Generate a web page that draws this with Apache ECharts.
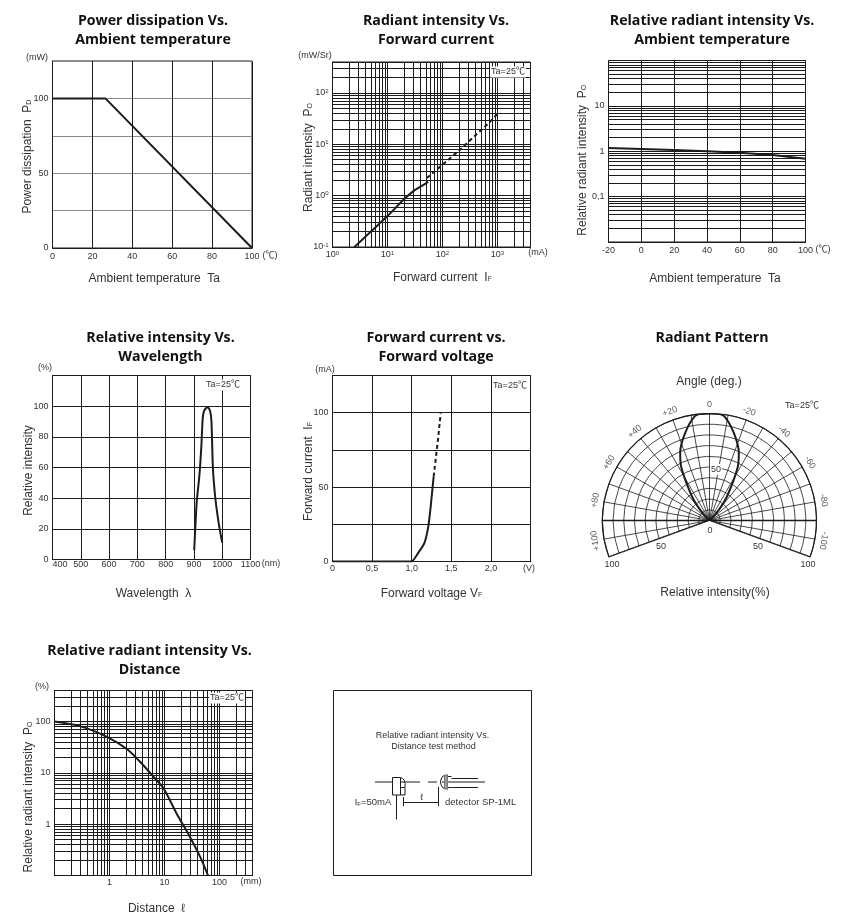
<!DOCTYPE html>
<html>
<head>
<meta charset="utf-8">
<title>IR LED characteristics</title>
<style>
  html, body { margin: 0; padding: 0; background: #fff; }
  #main { width: 844px; height: 922px; }
</style>
<script src="https://cdn.jsdelivr.net/npm/echarts@6/dist/echarts.min.js"></script>
</head>
<body>
<div id="main"></div>
<script>
// power dissipation vs ambient temperature
const powerTemp = [0, 26.5, 100];
const powerVal = [100, 100, 0];
const powerYLabels = [0, 50, 100];

// radiant intensity vs forward current
const radiantCurrent = [2.5, 5, 10, 20, 30, 40, 55];
const radiantVal = [0.1, 0.2, 0.4, 0.85, 1.24, 1.5, 1.85];
const radiantDashCurrent = [52, 100, 200, 400, 700, 1000];
const radiantDashVal = [2.2, 4, 7.5, 15, 26, 39];

// relative radiant intensity vs ambient temperature
const relTemp = [-20, 0, 20, 40, 60, 80, 100];
const relVal = [1.18, 1.12, 1.06, 1.0, 0.93, 0.83, 0.68];

// relative intensity vs wavelength
const waveNm = [901, 910, 919, 926, 931, 936, 948, 957, 962, 967, 974, 981, 990, 1000];
const waveVal = [6, 38, 54, 73, 92, 97, 99.5, 97, 90, 60, 43, 32, 21, 11];

// forward current vs forward voltage
const vfVolt = [0, 1.0, 1.08, 1.16, 1.21, 1.24, 1.277];
const vfCurrent = [0, 0, 5.6, 12.4, 23.6, 37, 57];
const vfDashVolt = [1.277, 1.328, 1.366];
const vfDashCurrent = [57, 80, 99.5];

// radiant pattern, one lobe (mirrored for the negative angles)
const lobeAngle = [0, 4, 8, 15.5, 23.4, 28, 36, 42, 50];
const lobeVal = [100, 100, 98.5, 85, 69, 56, 28, 12, 0];
const polarAngleLabels = [100, 80, 60, 40, 20, 0, -20, -40, -60, -80, -100];
const polarEdgeAngles = [110, 90, -90, -110];

// relative radiant intensity vs distance
const distMm = [0.1, 0.29, 0.9, 2.07, 3.6, 6.3, 9.6, 16.7, 29, 44.7, 62];
const distVal = [100, 81, 50, 29, 16.4, 8.4, 5, 1.6, 0.57, 0.23, 0.1];

const sansFont = '"Liberation Sans", "Noto Sans CJK JP", sans-serif';
const ink = '#1c1c1c';
const textInk = '#333';

function pairs(xs, ys) {
  return xs.map((x, i) => [x, ys[i]]);
}

// 1,2..9 per decade, used for the log paper lines
function logLines(min, max) {
  let out = [];
  for (let d = Math.floor(Math.log10(min)); d <= Math.ceil(Math.log10(max)); d++) {
    for (let m = 1; m < 10; m++) {
      let v = Number((m * Math.pow(10, d)).toPrecision(3));
      if (v >= min && v <= max) out.push(v);
    }
  }
  return out;
}

function nameStyle(shift) {
  return {
    fontFamily: sansFont,
    fontSize: 12,
    color: textInk,
    padding: shift > 0 ? [0, 0, 0, shift * 2] : (shift < 0 ? [0, -shift * 2, 0, 0] : 0),
    rich: {
      m: { fontFamily: sansFont, fontSize: 12, color: textInk },
      s: { fontFamily: sansFont, fontSize: 7, color: textInk, padding: [3, 0, 0, 0] }
    }
  };
}

const superRich = {
  b: { fontFamily: sansFont, fontSize: 9, color: textInk },
  e: { fontFamily: sansFont, fontSize: 6, color: textInk, padding: [0, 0, 4, 0] }
};

function powerLabel(v) {
  return '{b|10}{e|' + Math.round(Math.log10(v)) + '}';
}

function valueAxis(opt) {
  let lineColor = opt.lineColor || ink;
  let axis = {
    type: opt.log ? 'log' : 'value',
    gridIndex: opt.grid,
    min: opt.min,
    max: opt.max,
    name: opt.name,
    nameLocation: 'middle',
    nameGap: opt.gap,
    nameMoveOverlap: false,
    nameTextStyle: nameStyle(opt.shift || 0),
    axisLine: { show: true, lineStyle: { color: ink, width: 1 } },
    axisTick: { show: false },
    axisLabel: {
      fontFamily: sansFont,
      fontSize: 9,
      color: textInk,
      margin: opt.margin === undefined ? 4 : opt.margin,
      showMinLabel: true,
      showMaxLabel: true,
      hideOverlap: false,
      formatter: v => String(v)
    },
    splitLine: { show: true, lineStyle: { color: lineColor, width: 1 } },
    minorTick: { show: false }
  };
  if (opt.log) {
    axis.logBase = 10;
    axis.axisTick.customValues = opt.lines;
    axis.axisLabel.customValues = opt.labels;
  } else {
    axis.interval = opt.interval;
    if (opt.labels) axis.axisLabel.customValues = opt.labels;
  }
  if (opt.rich) {
    axis.axisLabel.rich = superRich;
    axis.axisLabel.formatter = powerLabel;
  }
  if (opt.formatter) axis.axisLabel.formatter = opt.formatter;
  if (opt.minAlign) axis.axisLabel.alignMinLabel = opt.minAlign;
  return axis;
}

function curve(x, y, data, dashed, smooth) {
  return {
    type: 'line',
    xAxisIndex: x,
    yAxisIndex: y,
    data: data,
    symbol: 'none',
    smooth: smooth || false,
    z: 5,
    lineStyle: { color: ink, width: 2, type: dashed ? [4, 3] : 'solid' }
  };
}

function title(text, x, y) {
  return {
    text: text,
    left: x,
    top: y,
    padding: 0,
    textAlign: 'center',
    textStyle: {
      fontFamily: '"Open Sans", sans-serif',
      fontWeight: 'bold',
      fontSize: 14.2,
      lineHeight: 19.5,
      color: '#111'
    }
  };
}

function note(text, x, y, size, bg, align) {
  return {
    type: 'text',
    x: x,
    y: y,
    z: 100,
    style: {
      text: text,
      fontFamily: sansFont,
      fontSize: size || 9,
      fill: textInk,
      align: align || 'center',
      verticalAlign: 'middle',
      backgroundColor: bg || 'transparent',
      padding: bg ? [1, 1, 1, 1] : 0
    }
  };
}

function seg(x1, y1, x2, y2, w, c) {
  return {
    type: 'line', z: 100,
    shape: { x1: x1, y1: y1, x2: x2, y2: y2 },
    style: { stroke: c || ink, lineWidth: w || 1 }
  };
}

function bend(x1, y1, cx, cy, x2, y2) {
  return {
    type: 'bezierCurve', z: 100,
    shape: { x1: x1, y1: y1, cpx1: cx, cpy1: cy, x2: x2, y2: y2 },
    style: { stroke: ink, lineWidth: 1, fill: null }
  };
}

const grids = [
  { left: 52.5, top: 61, width: 199.5, height: 187 },
  { left: 332.5, top: 62, width: 198, height: 185 },
  { left: 608.5, top: 60.5, width: 197, height: 181.5 },
  { left: 52.5, top: 375.5, width: 198, height: 184 },
  { left: 332.5, top: 375.5, width: 198, height: 186 },
  { left: 54.5, top: 690.5, width: 198, height: 185 }
].map(g => Object.assign(g, { show: true, borderColor: ink, borderWidth: 1, backgroundColor: 'transparent' }));

const xAxes = [
  valueAxis({ grid: 0, min: 0, max: 100, interval: 20, name: 'Ambient temperature  Ta', gap: 25, shift: 2 }),
  valueAxis({ grid: 1, log: true, min: 1, max: 4000, lines: logLines(1, 4000), labels: [1, 10, 100, 1000], rich: true, name: '{m|Forward current  I}{s|F}', gap: 25, shift: 11, margin: 3 }),
  valueAxis({ grid: 2, min: -20, max: 100, interval: 20, name: 'Ambient temperature  Ta', gap: 31, shift: 8, margin: 4 }),
  valueAxis({ grid: 3, min: 400, max: 1100, interval: 100, name: 'Wavelength  λ', gap: 28, shift: 2, margin: 1, minAlign: 'left' }),
  valueAxis({ grid: 4, min: 0, max: 2.5, interval: 0.5, labels: [0, 0.5, 1, 1.5, 2], formatter: v => v === 0 ? '0' : v.toFixed(1).replace('.', ','), name: '{m|Forward voltage V}{s|F}', gap: 26, margin: 3 }),
  valueAxis({ grid: 5, log: true, min: 0.1, max: 400, lines: logLines(0.1, 400), labels: [1, 10, 100], name: 'Distance  ℓ', gap: 27, shift: 3, margin: 3 })
];

const yAxes = [
  valueAxis({ grid: 0, min: 0, max: 125, interval: 25, labels: powerYLabels, lineColor: '#8a8a8a', name: '{m|Power dissipation  P}{s|D}', gap: 19, shift: -2 }),
  valueAxis({ grid: 1, log: true, min: 0.1, max: 400, lines: logLines(0.1, 400), labels: [0.1, 1, 10, 100], rich: true, name: '{m|Radiant intensity  P}{s|O}', gap: 18, shift: -3, margin: 4 }),
  valueAxis({ grid: 2, log: true, min: 0.01, max: 100, lines: logLines(0.01, 100), labels: [0.1, 1, 10], formatter: v => String(v).replace('.', ','), name: '{m|Relative radiant intensity  P}{s|O}', gap: 20, shift: -9 }),
  valueAxis({ grid: 3, min: 0, max: 120, interval: 20, labels: [0, 20, 40, 60, 80, 100], name: 'Relative intensity', gap: 18, shift: -3 }),
  valueAxis({ grid: 4, min: 0, max: 125, interval: 25, labels: powerYLabels, name: '{m|Forward current  I}{s|F}', gap: 18, shift: -3 }),
  valueAxis({ grid: 5, log: true, min: 0.1, max: 400, lines: logLines(0.1, 400), labels: [1, 10, 100], name: '{m|Relative radiant intensity  P}{s|O}', gap: 20, shift: -14 })
];

// full lobe from +50 through 0 to -50
const lobeData = lobeAngle.slice().reverse().map((a, i) => [lobeVal[lobeAngle.length - 1 - i], a])
  .concat(lobeAngle.slice(1).map((a, i) => [lobeVal[i + 1], -a]));

const polarLabelData = polarAngleLabels.map(a => ({
  value: [100, a],
  name: a > 0 ? '+' + a : String(a),
  label: { rotate: a, offset: [0, -9] }
}));

const series = [
  curve(0, 0, pairs(powerTemp, powerVal)),
  curve(1, 1, pairs(radiantCurrent, radiantVal), false, 0.3),
  curve(1, 1, pairs(radiantDashCurrent, radiantDashVal), true),
  curve(2, 2, pairs(relTemp, relVal)),
  curve(3, 3, pairs(waveNm, waveVal), false, 0.2),
  curve(4, 4, pairs(vfVolt, vfCurrent), false, 0.15),
  curve(4, 4, pairs(vfDashVolt, vfDashCurrent), true),
  curve(5, 5, pairs(distMm, distVal), false, 0.3),
  {
    type: 'line',
    coordinateSystem: 'polar',
    data: lobeData,
    symbol: 'none',
    smooth: 0.3,
    z: 5,
    lineStyle: { color: ink, width: 2 }
  },
  {
    type: 'scatter',
    coordinateSystem: 'polar',
    data: polarLabelData,
    symbolSize: 1,
    itemStyle: { color: 'transparent' },
    label: {
      show: true,
      position: 'inside',
      formatter: '{b}',
      fontFamily: sansFont,
      fontSize: 9,
      color: textInk
    }
  }
];

// heavier edges of the fan
polarEdgeAngles.forEach(a => {
  series.push({
    type: 'line',
    coordinateSystem: 'polar',
    data: [[0, a], [100, a]],
    symbol: 'none',
    z: 4,
    lineStyle: { color: ink, width: Math.abs(a) === 110 ? 2 : 1.5 }
  });
});

const graphics = [
  // units
  note('(mW)', 37, 58), note('(℃)', 270, 256),
  note('(mW/Sr)', 315, 56), note('(mA)', 538, 253),
  note('(℃)', 823, 250),
  note('(%)', 45, 368), note('(nm)', 271, 564),
  note('(mA)', 325, 370), note('(V)', 529, 569),
  note('(%)', 42, 687), note('(mm)', 251, 882),
  // temperature notes
  note('Ta=25℃', 508, 72, 9, '#fff'),
  note('Ta=25℃', 223, 385, 9, '#fff'),
  note('Ta=25℃', 510, 385.5, 9, '#fff'),
  note('Ta=25℃', 802, 406, 9),
  note('Ta=25℃', 227, 698, 9, '#fff'),
  // radiant pattern texts
  note('Angle (deg.)', 709, 382, 12),
  note('Relative intensity(%)', 715, 593, 12),
  note('50', 716, 469.5, 9, '#fff'),
  note('0', 710, 531), note('50', 661, 547), note('50', 758, 547),
  note('100', 612, 564.5), note('100', 808, 565),
  // test method box
  { type: 'rect', z: 100, shape: { x: 333.5, y: 690.5, width: 198, height: 185 }, style: { stroke: ink, lineWidth: 1, fill: null } },
  note('Relative radiant intensity Vs.', 432.5, 736),
  note('Distance test method', 433.5, 747),
  seg(375, 782, 420, 782), seg(428, 782, 437, 782), seg(442, 782, 485, 782),
  { type: 'rect', z: 100, shape: { x: 392.5, y: 777.5, width: 8, height: 17.5 }, style: { stroke: ink, lineWidth: 1, fill: '#fff' } },
  bend(400.5, 777.5, 406, 779, 405, 787),
  seg(405, 787.5, 400.5, 787.5),
  seg(405, 787.5, 405, 795), seg(405, 795, 400.5, 795),
  seg(396.5, 795, 396.5, 819.5),
  seg(403.5, 797, 403.5, 806), seg(438.5, 787, 438.5, 806),
  seg(403.5, 802.5, 438.5, 802.5),
  note('ℓ', 421.5, 798),
  bend(443, 776, 438, 782, 443, 788),
  seg(443, 776, 448, 775), seg(443, 788, 448, 789),
  { type: 'rect', z: 100, shape: { x: 444.5, y: 775, width: 3, height: 14 }, style: { stroke: '#777', lineWidth: 1, fill: '#999' } },
  seg(448, 776.5, 451.5, 776.5), seg(448, 787.5, 451.5, 787.5),
  seg(451.5, 778.5, 478, 778.5), seg(451.5, 787.5, 478, 787.5),
  {
    type: 'text', x: 373, y: 802.5, z: 100,
    style: {
      text: '{m|I}{s|F}{m|=50mA}',
      align: 'center', verticalAlign: 'middle', fill: textInk,
      rich: {
        m: { fontFamily: sansFont, fontSize: 9.5, fill: textInk },
        s: { fontFamily: sansFont, fontSize: 6, fill: textInk, padding: [3, 0, 0, 0] }
      }
    }
  },
  note('detector SP-1ML', 445, 802.5, 9.5, null, 'left')
];

const chart = echarts.init(document.getElementById('main'), null, { renderer: 'canvas' });
chart.setOption({
  animation: false,
  backgroundColor: '#fff',
  title: [
    title('Power dissipation Vs.\nAmbient temperature', 153, 11),
    title('Radiant intensity Vs.\nForward current', 436, 11),
    title('Relative radiant intensity Vs.\nAmbient temperature', 712, 11),
    title('Relative intensity Vs.\nWavelength', 160.5, 328),
    title('Forward current vs.\nForward voltage', 436, 328),
    title('Radiant Pattern', 712, 328),
    title('Relative radiant intensity Vs.\nDistance', 149.5, 641)
  ],
  grid: grids,
  xAxis: xAxes,
  yAxis: yAxes,
  polar: { center: [709.5, 520.5], radius: 107 },
  angleAxis: {
    type: 'value',
    min: -110,
    max: 110,
    interval: 10,
    startAngle: -20,
    endAngle: 200,
    clockwise: false,
    axisLine: { show: true, lineStyle: { color: ink, width: 1.2 } },
    axisTick: { show: false },
    axisLabel: { show: false },
    splitLine: { show: true, lineStyle: { color: ink, width: 0.8 } }
  },
  radiusAxis: {
    type: 'value',
    min: 0,
    max: 100,
    interval: 10,
    axisLine: { show: false },
    axisTick: { show: false },
    axisLabel: { show: false },
    splitLine: { show: true, lineStyle: { color: ink, width: 0.8 } }
  },
  series: series,
  graphic: graphics
});
</script>
</body>
</html>
